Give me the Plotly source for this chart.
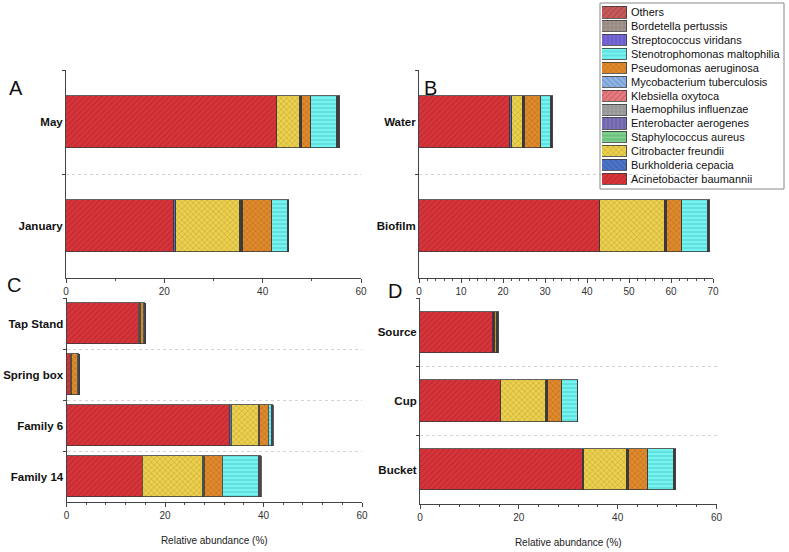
import plotly.graph_objects as go

W, H = 789, 552

SPECIES = [
    "Acinetobacter baumannii", "Burkholderia cepacia", "Citrobacter freundii",
    "Staphylococcus aureus", "Enterobacter aerogenes", "Haemophilus influenzae",
    "Klebsiella oxytoca", "Mycobacterium tuberculosis", "Pseudomonas aeruginosa",
    "Stenotrophomonas maltophilia", "Streptococcus viridans", "Bordetella pertussis",
    "Others",
]

# panel A: month
A_SITES = ["May", "January"]
A_MAY = [43.0, 0.0, 4.6, 0.15, 0.15, 0.1, 0.1, 0.0, 1.7, 5.4, 0.1, 0.2, 0.2]
A_JANUARY = [21.9, 0.5, 13.0, 0.15, 0.15, 0.1, 0.1, 0.0, 5.9, 3.4, 0.1, 0.05, 0.05]

# panel B: sample type
B_SITES = ["Water", "Biofilm"]
B_WATER = [21.7, 0.5, 2.5, 0.15, 0.15, 0.1, 0.1, 0.0, 3.8, 2.4, 0.2, 0.15, 0.15]
B_BIOFILM = [43.0, 0.0, 15.5, 0.15, 0.15, 0.1, 0.1, 0.0, 3.6, 6.2, 0.2, 0.15, 0.15]

# panel C: location
C_SITES = ["Tap Stand", "Spring box", "Family 6", "Family 14"]
C_TAP = [14.7, 0.0, 0.0, 0.1, 0.1, 0.1, 0.1, 0.0, 0.5, 0.3, 0.05, 0.05, 0.0]
C_SPRING = [0.9, 0.0, 0.0, 0.05, 0.05, 0.05, 0.05, 0.0, 1.1, 0.3, 0.05, 0.05, 0.0]
C_FAMILY6 = [33.1, 0.4, 5.4, 0.1, 0.1, 0.05, 0.05, 0.0, 1.8, 0.7, 0.1, 0.1, 0.1]
C_FAMILY14 = [15.4, 0.0, 12.3, 0.1, 0.1, 0.1, 0.1, 0.0, 3.5, 7.4, 0.2, 0.15, 0.15]

# panel D: container
D_SITES = ["Source", "Cup", "Bucket"]
D_SOURCE = [14.8, 0.0, 0.0, 0.1, 0.1, 0.05, 0.05, 0.0, 0.4, 0.3, 0.05, 0.05, 0.0]
D_CUP = [16.4, 0.0, 9.1, 0.1, 0.1, 0.05, 0.05, 0.0, 3.0, 3.1, 0.05, 0.0, 0.0]
D_BUCKET = [32.9, 0.3, 8.6, 0.1, 0.1, 0.1, 0.1, 0.0, 3.9, 5.2, 0.2, 0.15, 0.15]

COLORS = ["#d8343a", "#4d74c8", "#ecd04e", "#7dd08f", "#7d72b8", "#a3a3a3", "#e77b80",
          "#8fb3e6", "#e08a2c", "#72f4f2", "#7869d8", "#a59891", "#c85a5a"]
FG = ["#8e1f24", "#2a4a8a", "#8a7a20", "#3f8a50", "#4a4280", "#606060", "#a04048",
      "#4a70a8", "#8a4a10", "#3aa0a0", "#433aa0", "#605048", "#803030"]
SHAPES = ["/", "\\", "x", "-", "|", "+", "/", "\\", "x", "-", "|", "+", "/"]

FONT = "Liberation Sans, Arial, sans-serif"


def px_x(a, b):
    return [a / W, b / W]


def px_y(top, bottom):
    return [1 - bottom / H, 1 - top / H]


def marker(i):
    return dict(
        color=COLORS[i],
        line=dict(color="#3a3a3a", width=0.8),
        pattern=dict(shape=SHAPES[i], fgcolor=FG[i], bgcolor=COLORS[i],
                     fillmode="overlay", size=4, solidity=0.25),
    )


fig = go.Figure()


def add_panel(sites, rows, ax, width):
    for i, name in enumerate(SPECIES):
        vals = [r[i] if r[i] > 0 else None for r in rows]
        fig.add_trace(go.Bar(
            x=vals, y=sites, orientation="h", name=name, width=width,
            marker=marker(i), xaxis="x" + ax, yaxis="y" + ax, showlegend=False,
        ))


add_panel(A_SITES, [A_MAY, A_JANUARY], "", 0.5)
add_panel(B_SITES, [B_WATER, B_BIOFILM], "2", 0.5)
add_panel(C_SITES, [C_TAP, C_SPRING, C_FAMILY6, C_FAMILY14], "3", 0.82)
add_panel(D_SITES, [D_SOURCE, D_CUP, D_BUCKET], "4", 0.6)

# legend drawn as its own small bar subplot
for i, name in enumerate(SPECIES):
    fig.add_trace(go.Bar(
        x=[1], y=[name], orientation="h", width=0.8, marker=marker(i),
        xaxis="x5", yaxis="y5", showlegend=False, hoverinfo="skip",
    ))


def xax(dom, rng, dtick, minor, anchor, title=None):
    d = dict(
        domain=dom, range=rng, dtick=dtick, tick0=0, anchor=anchor, automargin=False,
        showline=True, linecolor="#444", linewidth=1,
        ticks="outside", ticklen=4, tickcolor="#444",
        tickfont=dict(size=10, color="#333"),
        showgrid=False, zeroline=False,
        minor=dict(dtick=minor, tick0=0, ticks="outside", ticklen=2, tickcolor="#444"),
    )
    if title:
        d["title"] = dict(text=title, font=dict(size=10, color="#222"), standoff=16)
    return d


def yax(dom, anchor):
    return dict(
        domain=dom, type="category", autorange="reversed", anchor=anchor, automargin=False,
        tickson="boundaries", ticks="outside", ticklen=3, tickcolor="#444",
        showline=True, linecolor="#444", linewidth=1,
        showgrid=True, gridcolor="#d4d4d4", griddash="dot", gridwidth=1,
        tickfont=dict(size=11.5, color="#111", weight="bold"),
    )


fig.update_layout(
    width=W, height=H,
    margin=dict(l=0, r=0, t=0, b=0),
    paper_bgcolor="white", plot_bgcolor="white",
    barmode="stack", bargap=0,
    font=dict(family=FONT),
    xaxis=xax(px_x(66, 361), [0, 60], 20, 10, "y"),
    yaxis=yax(px_y(70, 278), "x"),
    xaxis2=xax(px_x(419, 713), [0, 70], 10, 2, "y2"),
    yaxis2=yax(px_y(70, 278), "x2"),
    xaxis3=xax(px_x(66.5, 362), [0, 60], 20, 4, "y3", "Relative abundance (%)"),
    yaxis3=yax(px_y(298, 502), "x3"),
    xaxis4=xax(px_x(420, 716.5), [0, 60], 20, 4, "y4", "Relative abundance (%)"),
    yaxis4=yax(px_y(298, 504), "x4"),
    xaxis5=dict(domain=px_x(602, 627), range=[0, 1], visible=False, anchor="y5",
                automargin=False),
    yaxis5=dict(domain=px_y(5.5, 186), type="category", side="right", anchor="x5",
                automargin=False, showline=False, ticks="", showgrid=False,
                ticklabelstandoff=3, tickfont=dict(size=11, color="#111")),
    shapes=[dict(type="rect", xref="paper", yref="paper",
                 x0=600 / W, x1=784 / W, y0=1 - 189 / H, y1=1 - 3 / H,
                 line=dict(color="#888", width=1))],
    annotations=[
        dict(text=t, x=x / W, y=1 - y / H, xref="paper", yref="paper",
             xanchor="center", yanchor="middle",
             showarrow=False, font=dict(size=20, color="#111"))
        for t, x, y in [("A", 16, 88), ("B", 430, 88), ("C", 14, 285), ("D", 395, 291)]
    ],
)

fig.write_html("out.html", config={"displayModeBar": False},
               post_script="document.body.style.margin='0';")
